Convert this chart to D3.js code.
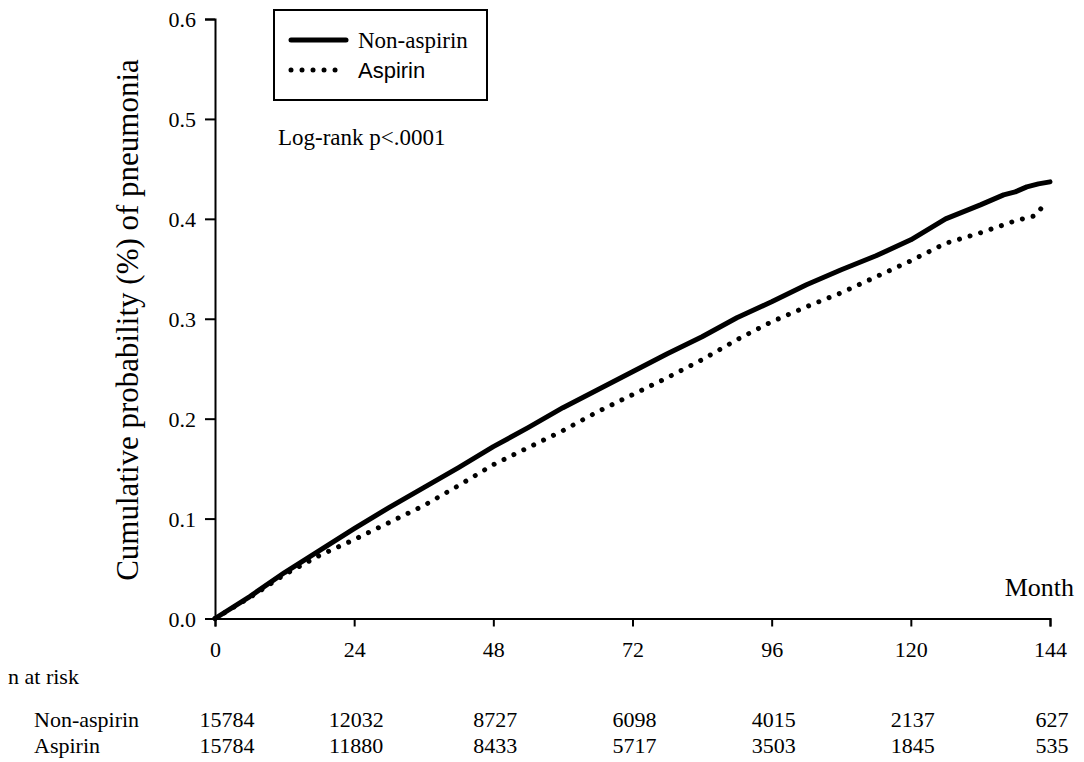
<!DOCTYPE html>
<html>
<head>
<meta charset="utf-8">
<script src="https://cdn.jsdelivr.net/npm/d3@7"></script>
<style>
  html, body { margin: 0; padding: 0; background: #fff; }
  svg { display: block; }
  text { fill: #000; }
</style>
</head>
<body>
<svg id="chart" width="1084" height="762"></svg>
<script>
// ---- data ----
const months = [0, 6, 12, 18, 24, 30, 36, 42, 48, 54, 60, 66, 72, 78, 84, 90, 96, 102, 108, 114, 120, 126, 132, 136, 138, 140, 142, 144];
const nonAspirin = [0, 0.022, 0.046, 0.068, 0.090, 0.111, 0.131, 0.151, 0.172, 0.191, 0.211, 0.229, 0.247, 0.265, 0.282, 0.301, 0.317, 0.334, 0.349, 0.363, 0.379, 0.400, 0.414, 0.424, 0.427, 0.432, 0.435, 0.437];
const aspMonths = [0, 6, 12, 18, 24, 30, 36, 42, 48, 54, 60, 66, 72, 78, 84, 90, 96, 102, 108, 114, 120, 126, 132, 136, 138, 140, 141.4, 142.7];
const aspirin = [0, 0.021, 0.044, 0.063, 0.079, 0.096, 0.113, 0.133, 0.154, 0.171, 0.188, 0.207, 0.224, 0.241, 0.259, 0.279, 0.297, 0.312, 0.326, 0.342, 0.358, 0.3755, 0.386, 0.394, 0.398, 0.401, 0.403, 0.412];
const xTicks = [0, 24, 48, 72, 96, 120, 144];
const yTicks = [0, 0.1, 0.2, 0.3, 0.4, 0.5, 0.6];
const groups = ["Non-aspirin", "Aspirin"];
const riskNon = [15784, 12032, 8727, 6098, 4015, 2137, 627];
const riskAsp = [15784, 11880, 8433, 5717, 3503, 1845, 535];

const serif = "'Liberation Serif', 'Times New Roman', serif";
const sans = "'Liberation Sans', Arial, sans-serif";

const svg = d3.select("#chart");
const x = d3.scaleLinear().domain([0, 144]).range([215, 1050]);
const y = d3.scaleLinear().domain([0, 0.6]).range([618.5, 19]);

// axes
const yAxis = svg.append("g").attr("transform", `translate(${x(0)},0)`)
  .call(d3.axisLeft(y).tickValues(yTicks).tickFormat(d3.format(".1f")).tickSize(10).tickPadding(9));
const xAxis = svg.append("g").attr("transform", `translate(0,${y(0)})`)
  .call(d3.axisBottom(x).tickValues(xTicks).tickSize(8).tickPadding(15));
[xAxis, yAxis].forEach(g => {
  g.select(".domain").attr("stroke", "#000").attr("stroke-width", 2);
  g.selectAll(".tick line").attr("stroke", "#000").attr("stroke-width", 2);
  g.selectAll(".tick text").attr("font-family", serif).attr("font-size", 22).attr("fill", "#000");
});
yAxis.selectAll(".tick text").attr("dy", "0.36em");

// lines
const line = d3.line().x(d => x(d[0])).y(d => y(d[1]));
svg.append("path")
  .datum(months.map((m, i) => [m, nonAspirin[i]]))
  .attr("d", line).attr("fill", "none").attr("stroke", "#000")
  .attr("stroke-width", 5).attr("stroke-linejoin", "round").attr("stroke-linecap", "round");
svg.append("path")
  .datum(aspMonths.map((m, i) => [m, aspirin[i]]))
  .attr("d", line).attr("fill", "none").attr("stroke", "#000")
  .attr("stroke-width", 5).attr("stroke-linecap", "round").attr("stroke-dasharray", "0.01 11");

// y title
svg.append("text")
  .attr("transform", `translate(138,320) rotate(-90)`)
  .attr("text-anchor", "middle").attr("font-family", serif).attr("font-size", 31)
  .text("Cumulative probability (%) of pneumonia");

// Month label
svg.append("text").attr("x", 1074).attr("y", 596).attr("text-anchor", "end")
  .attr("font-family", serif).attr("font-size", 26).text("Month");

// legend
svg.append("rect").attr("x", 274).attr("y", 10).attr("width", 213).attr("height", 90)
  .attr("fill", "none").attr("stroke", "#000").attr("stroke-width", 2);
svg.append("line").attr("x1", 291).attr("x2", 346).attr("y1", 40).attr("y2", 40)
  .attr("stroke", "#000").attr("stroke-width", 5).attr("stroke-linecap", "round");
svg.append("line").attr("x1", 291).attr("x2", 346).attr("y1", 70).attr("y2", 70)
  .attr("stroke", "#000").attr("stroke-width", 5).attr("stroke-linecap", "round").attr("stroke-dasharray", "0.01 11");
svg.append("text").attr("x", 358).attr("y", 48).attr("font-family", serif).attr("font-size", 23).text(groups[0]);
svg.append("text").attr("x", 358).attr("y", 78).attr("font-family", sans).attr("font-size", 22).text(groups[1]);

// log-rank
svg.append("text").attr("x", 278).attr("y", 145).attr("font-family", serif).attr("font-size", 23).text("Log-rank p<.0001");

// risk table
svg.append("text").attr("x", 8).attr("y", 684).attr("font-family", serif).attr("font-size", 22).text("n at risk");
svg.append("text").attr("x", 34).attr("y", 727).attr("font-family", serif).attr("font-size", 22).text(groups[0]);
svg.append("text").attr("x", 34).attr("y", 753).attr("font-family", serif).attr("font-size", 22).text(groups[1]);
[[riskNon, 727], [riskAsp, 753]].forEach(([arr, yy]) => {
  svg.append("g").selectAll("text").data(arr).join("text")
    .attr("x", (d, i) => x(xTicks[i]) + (i === 0 ? 12 : 2))
    .attr("y", yy).attr("text-anchor", "middle")
    .attr("font-family", serif).attr("font-size", 22).text(d => d);
});
</script>
</body>
</html>
